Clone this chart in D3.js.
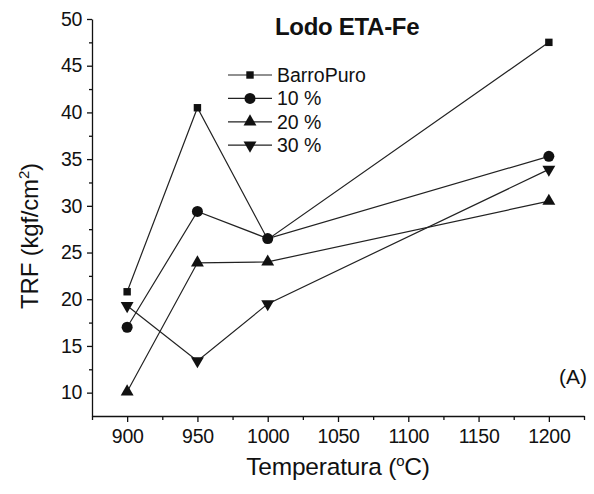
<!DOCTYPE html>
<html>
<head>
<meta charset="utf-8">
<script src="https://cdn.jsdelivr.net/npm/d3@7"></script>
<style>
  body { margin: 0; background: #fff; }
  svg text { font-family: "Liberation Sans", Arial, sans-serif; fill: #111; }
</style>
</head>
<body>
<div id="chart"></div>
<script>
// TRF vs temperature, Lodo ETA-Fe
var temps     = [900, 950, 1000, 1200];
var barroPuro = [20.8, 40.5, 26.4, 47.5];
var pct10     = [17.0, 29.4, 26.5, 35.3];
var pct20     = [10.1, 23.9, 24.0, 30.5];
var pct30     = [19.3, 13.4, 19.5, 33.9];
var seriesNames = ["BarroPuro", "10 %", "20 %", "30 %"];
var xTicks = [900, 950, 1000, 1050, 1100, 1150, 1200];
var yTicks = [10, 15, 20, 25, 30, 35, 40, 45, 50];

var W = 594, H = 494,
    padL = 92, padR = 584, padT = 19, padB = 416;

var x = d3.scaleLinear().domain([875, 1225]).range([padL, padR]),
    y = d3.scaleLinear().domain([7.5, 50]).range([padB, padT]);

var svg = d3.select("#chart").append("svg")
    .attr("width", W)
    .attr("height", H);

// minor ticks first, major axis over them
var xMinor = d3.range(875, 1226, 50),
    yMinor = d3.range(12.5, 50, 5);

svg.append("g")
    .attr("transform", "translate(0," + padB + ")")
    .call(d3.axisBottom(x).tickValues(xMinor).tickSize(4).tickFormat(""))
    .call(function(g){ g.select(".domain").remove(); });

svg.append("g")
    .attr("transform", "translate(" + padL + ",0)")
    .call(d3.axisLeft(y).tickValues(yMinor).tickSize(3).tickFormat(""))
    .call(function(g){ g.select(".domain").remove(); });

var xAxis = svg.append("g")
    .attr("transform", "translate(0," + padB + ")")
    .call(d3.axisBottom(x).tickValues(xTicks).tickFormat(d3.format("d"))
      .tickSize(6).tickPadding(7).tickSizeOuter(0));

var yAxis = svg.append("g")
    .attr("transform", "translate(" + padL + ",0)")
    .call(d3.axisLeft(y).tickValues(yTicks).tickFormat(d3.format("d"))
      .tickSize(5).tickPadding(5).tickSizeOuter(0));

[xAxis, yAxis].forEach(function(a) {
  a.selectAll("path").style("stroke", "#111").style("stroke-width", 1.3);
  a.selectAll("text")
    .style("font-size", "19.5px")
    .style("letter-spacing", "-0.3px")
    .style("fill", "#111")
    .style("font-family", "Liberation Sans, Arial, sans-serif");
});
svg.selectAll("g line").style("stroke", "#111").style("stroke-width", 1.3);

// series
var series = [barroPuro, pct10, pct20, pct30];
var symbols = [
  { type: d3.symbolSquare,   size: 55, rot: 0 },
  { type: d3.symbolCircle,   size: 95, rot: 0 },
  { type: d3.symbolTriangle, size: 72, rot: 0 },
  { type: d3.symbolTriangle, size: 72, rot: 180 }
];

var line = d3.line()
    .x(function(d) { return x(d[0]); })
    .y(function(d) { return y(d[1]); });

series.forEach(function(vals, si) {
  var pts = temps.map(function(t, i) { return [t, vals[i]]; });
  svg.append("path")
    .attr("d", line(pts))
    .style("fill", "none")
    .style("stroke", "#222")
    .style("stroke-width", 1.2);
});

series.forEach(function(vals, si) {
  var s = symbols[si];
  svg.selectAll(".m" + si)
    .data(temps.map(function(t, i) { return [t, vals[i]]; }))
    .enter()
    .append("path")
    .attr("class", "m" + si)
    .attr("d", d3.symbol().type(s.type).size(s.size))
    .attr("transform", function(d) {
      return "translate(" + x(d[0]) + "," + y(d[1]) + ") rotate(" + s.rot + ")";
    })
    .style("fill", "#111");
});

// legend
var lg = svg.append("g");
seriesNames.forEach(function(name, i) {
  var ly = 75 + i * 23.4;
  lg.append("line")
    .attr("x1", 228).attr("x2", 272)
    .attr("y1", ly).attr("y2", ly)
    .style("stroke", "#222").style("stroke-width", 1.2);
  var s = symbols[i];
  lg.append("path")
    .attr("d", d3.symbol().type(s.type).size(s.size))
    .attr("transform", "translate(250," + ly + ") rotate(" + s.rot + ")")
    .style("fill", "#111");
  lg.append("text")
    .attr("x", 277)
    .attr("y", ly)
    .attr("dy", "0.36em")
    .style("font-size", "19.5px")
    .text(name);
});

// title
svg.append("text")
  .attr("x", 275)
  .attr("y", 35)
  .style("font-size", "24px")
  .style("font-weight", "bold")
  .style("letter-spacing", "-0.3px")
  .text("Lodo ETA-Fe");

// panel label
svg.append("text")
  .attr("x", 587)
  .attr("y", 384)
  .attr("text-anchor", "end")
  .style("font-size", "21px")
  .text("(A)");

// axis titles
var xt = svg.append("text")
  .attr("x", (padL + padR) / 2)
  .attr("y", 475)
  .attr("text-anchor", "middle")
  .style("font-size", "24.5px")
  .style("letter-spacing", "-0.2px");
xt.append("tspan").text("Temperatura (");
xt.append("tspan").attr("dy", -9).style("font-size", "15px").text("o");
xt.append("tspan").attr("dy", 9).text("C)");

var yt = svg.append("text")
  .attr("transform", "translate(38,236) rotate(-90)")
  .attr("text-anchor", "middle")
  .style("font-size", "24px")
  .style("letter-spacing", "-0.2px");
yt.append("tspan").text("TRF (kgf/cm");
yt.append("tspan").attr("dy", -9).style("font-size", "15px").text("2");
yt.append("tspan").attr("dy", 9).text(")");
</script>
</body>
</html>
